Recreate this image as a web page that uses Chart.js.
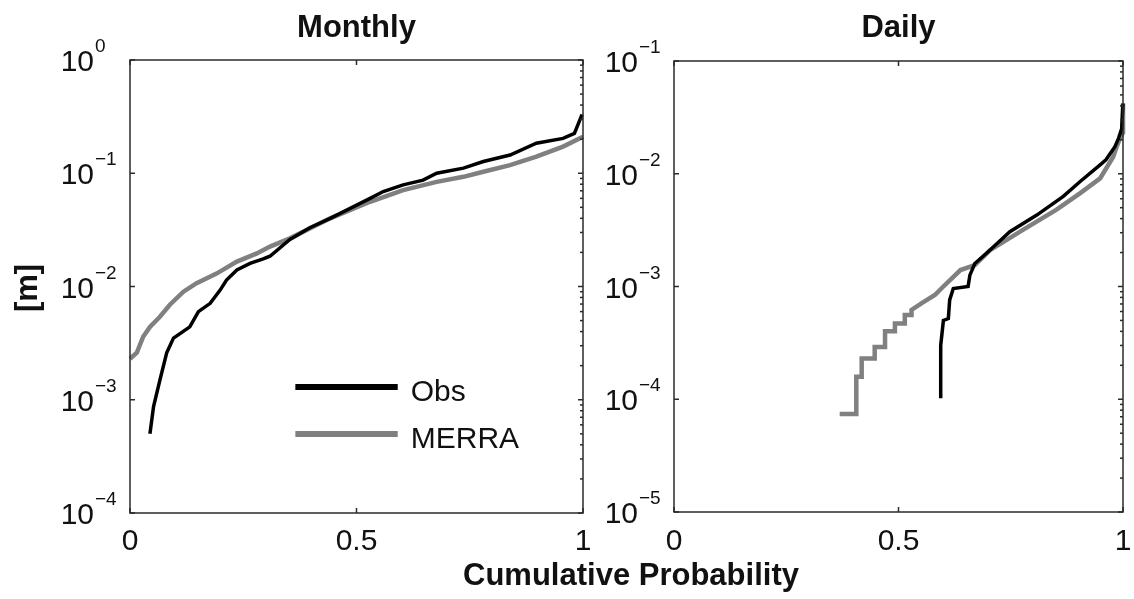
<!DOCTYPE html>
<html>
<head>
<meta charset="utf-8">
<script src="https://cdn.jsdelivr.net/npm/chart.js@4"></script>
<style>
  body { margin: 0; background: #fff; }
  #wrap { position: relative; width: 1134px; height: 599px; }
  #wrap canvas { position: absolute; left: 0; top: 0; }
</style>
</head>
<body>
<div id="wrap">
  <canvas id="monthlyChart" width="1134" height="599"></canvas>
  <canvas id="dailyChart" width="1134" height="599"></canvas>
</div>
<script>
// x ticks (cumulative probability) and y decades (exponents of 10)
const xTicks = [0, 0.5, 1];
const xTickLabels = ["0", "0.5", "1"];
const monthlyExps = [-4, -3, -2, -1, 0];
const dailyExps = [-5, -4, -3, -2, -1];

// Monthly panel
const monthlyObsP = [0.044, 0.052, 0.066, 0.081, 0.096, 0.132, 0.151, 0.177, 0.199, 0.213, 0.236, 0.265, 0.294, 0.309, 0.353, 0.397, 0.442, 0.486, 0.53, 0.559, 0.603, 0.647, 0.677, 0.736, 0.78, 0.839, 0.897, 0.956, 0.981, 0.99, 0.998];
const monthlyObsV = [5.0e-4, 8.7e-4, 1.49e-3, 2.6e-3, 3.5e-3, 4.4e-3, 6.0e-3, 7.1e-3, 9.3e-3, 1.14e-2, 1.4e-2, 1.6e-2, 1.75e-2, 1.85e-2, 2.6e-2, 3.3e-2, 4.0e-2, 4.9e-2, 6.0e-2, 6.9e-2, 7.9e-2, 8.7e-2, 0.1, 0.111, 0.127, 0.145, 0.184, 0.203, 0.225, 0.276, 0.33];
const monthlyMerraP = [0, 0.015, 0.029, 0.044, 0.066, 0.088, 0.118, 0.147, 0.191, 0.236, 0.28, 0.309, 0.353, 0.442, 0.53, 0.603, 0.677, 0.736, 0.78, 0.839, 0.897, 0.956, 1.0];
const monthlyMerraV = [2.3e-3, 2.6e-3, 3.6e-3, 4.4e-3, 5.4e-3, 6.9e-3, 9.0e-3, 1.07e-2, 1.3e-2, 1.66e-2, 1.96e-2, 2.25e-2, 2.66e-2, 4.0e-2, 5.6e-2, 7.1e-2, 8.4e-2, 9.3e-2, 0.103, 0.118, 0.14, 0.172, 0.21];

// Daily panel
const dailyObsP = [0.594, 0.594, 0.6, 0.611, 0.614, 0.622, 0.655, 0.659, 0.67, 0.696, 0.748, 0.808, 0.867, 0.904, 0.949, 0.962, 0.982, 0.99, 0.997, 1.0];
const dailyObsV = [1.02e-4, 3.0e-4, 5.0e-4, 5.2e-4, 7.6e-4, 9.6e-4, 1.0e-3, 1.26e-3, 1.6e-3, 1.97e-3, 3.06e-3, 4.3e-3, 6.3e-3, 8.5e-3, 1.2e-2, 1.33e-2, 1.74e-2, 2.06e-2, 2.5e-2, 4.2e-2];
const dailyMerraP = [0.369, 0.406, 0.406, 0.418, 0.418, 0.447, 0.447, 0.47, 0.47, 0.492, 0.492, 0.514, 0.514, 0.529, 0.529, 0.551, 0.581, 0.6, 0.638, 0.67, 0.704, 0.778, 0.852, 0.904, 0.949, 0.978, 0.986, 0.994, 1.0, 1.0];
const dailyMerraV = [7.4e-5, 7.4e-5, 1.58e-4, 1.58e-4, 2.3e-4, 2.3e-4, 2.9e-4, 2.9e-4, 4.0e-4, 4.0e-4, 4.7e-4, 4.7e-4, 5.6e-4, 5.6e-4, 6.2e-4, 7.1e-4, 8.4e-4, 1.0e-3, 1.4e-3, 1.55e-3, 2.1e-3, 3.2e-3, 4.8e-3, 6.7e-3, 9.1e-3, 1.41e-2, 1.74e-2, 2.1e-2, 2.3e-2, 4.2e-2];

const seriesNames = ["Obs", "MERRA"];
const seriesColors = ["#000000", "#808080"];

const fontName = '"Liberation Sans", Arial, Helvetica, sans-serif';
const textColor = "#111";

function toPoints(ps, vs) {
  return ps.map((p, i) => ({ x: p, y: vs[i] }));
}

function drawLine(ctx, x1, y1, x2, y2) {
  ctx.beginPath();
  ctx.moveTo(x1, y1);
  ctx.lineTo(x2, y2);
  ctx.stroke();
}

// draws the matlab style box, ticks, labels, titles (and legend for the left panel)
function framePlugin(panel) {
  return {
    id: "frame",
    afterDraw(chart) {
      const ctx = chart.ctx;
      const a = chart.chartArea;
      const xs = chart.scales.x;
      const ys = chart.scales.y;
      ctx.save();

      ctx.strokeStyle = "#2a2a2a";
      ctx.lineWidth = 1.5;
      ctx.strokeRect(a.left, a.top, a.right - a.left, a.bottom - a.top);

      ctx.fillStyle = textColor;
      ctx.font = "30px " + fontName;
      ctx.textAlign = "center";
      ctx.textBaseline = "alphabetic";
      xTicks.forEach((v, i) => {
        const px = xs.getPixelForValue(v);
        drawLine(ctx, px, a.bottom, px, a.bottom - 5);
        drawLine(ctx, px, a.top, px, a.top + 5);
        ctx.fillText(xTickLabels[i], px, 550);
      });

      const last = panel.exps[panel.exps.length - 1];
      panel.exps.forEach(e => {
        const py = ys.getPixelForValue(Math.pow(10, e));
        drawLine(ctx, a.left, py, a.left + 5, py);
        drawLine(ctx, a.right, py, a.right - 5, py);
        if (e < last) {
          for (let k = 2; k <= 9; k++) {
            const my = ys.getPixelForValue(k * Math.pow(10, e));
            drawLine(ctx, a.right, my, a.right - 3, my);
          }
        }
        const xr = a.left - 36;
        ctx.font = "30px " + fontName;
        ctx.textAlign = "right";
        ctx.fillText("10", xr, py + 11);
        ctx.font = "19px " + fontName;
        ctx.textAlign = "left";
        const expText = e < 0 ? "\u2212" + Math.abs(e) : String(e);
        ctx.fillText(expText, xr + 1, py - 8);
      });

      ctx.font = "bold 31px " + fontName;
      ctx.textAlign = "center";
      ctx.fillText(panel.title, (a.left + a.right) / 2, 37);

      if (panel.legend) {
        const lx1 = xs.getPixelForValue(0.365);
        const lx2 = xs.getPixelForValue(0.591);
        const rows = [387, 434];
        chart.data.datasets.forEach((ds, i) => {
          ctx.strokeStyle = ds.borderColor;
          ctx.lineWidth = 6;
          drawLine(ctx, lx1, rows[i], lx2, rows[i]);
          ctx.fillStyle = textColor;
          ctx.font = "30px " + fontName;
          ctx.textAlign = "left";
          ctx.fillText(ds.label, lx2 + 13, rows[i] + 14);
        });

        ctx.font = "bold 31px " + fontName;
        ctx.textAlign = "center";
        ctx.fillText("Cumulative Probability", 631, 585);
        ctx.save();
        ctx.translate(37, 288);
        ctx.rotate(-Math.PI / 2);
        ctx.fillText("[m]", 0, 0);
        ctx.restore();
      }
      ctx.restore();
    }
  };
}

function makePanel(id, pad, yMin, yMax, obs, merra, panel) {
  new Chart(document.getElementById(id), {
    type: "line",
    data: {
      datasets: [
        { label: seriesNames[0], data: obs, borderColor: seriesColors[0], borderWidth: 3.5, clip: 3 },
        { label: seriesNames[1], data: merra, borderColor: seriesColors[1], borderWidth: 4.5, clip: 3 }
      ]
    },
    options: {
      responsive: false,
      animation: false,
      devicePixelRatio: 1,
      layout: { padding: pad },
      elements: { point: { radius: 0 }, line: { tension: 0, borderJoinStyle: "miter" } },
      plugins: { legend: { display: false }, tooltip: { enabled: false }, title: { display: false } },
      scales: {
        x: { type: "linear", min: 0, max: 1, display: false },
        y: { type: "logarithmic", min: yMin, max: yMax, display: false }
      }
    },
    plugins: [framePlugin(panel)]
  });
}

makePanel("monthlyChart", { left: 130, right: 551, top: 60, bottom: 86 }, 1e-4, 1,
  toPoints(monthlyObsP, monthlyObsV), toPoints(monthlyMerraP, monthlyMerraV),
  { title: "Monthly", exps: monthlyExps, legend: true });

makePanel("dailyChart", { left: 674, right: 11, top: 61, bottom: 87 }, 1e-5, 1e-1,
  toPoints(dailyObsP, dailyObsV), toPoints(dailyMerraP, dailyMerraV),
  { title: "Daily", exps: dailyExps, legend: false });
</script>
</body>
</html>
